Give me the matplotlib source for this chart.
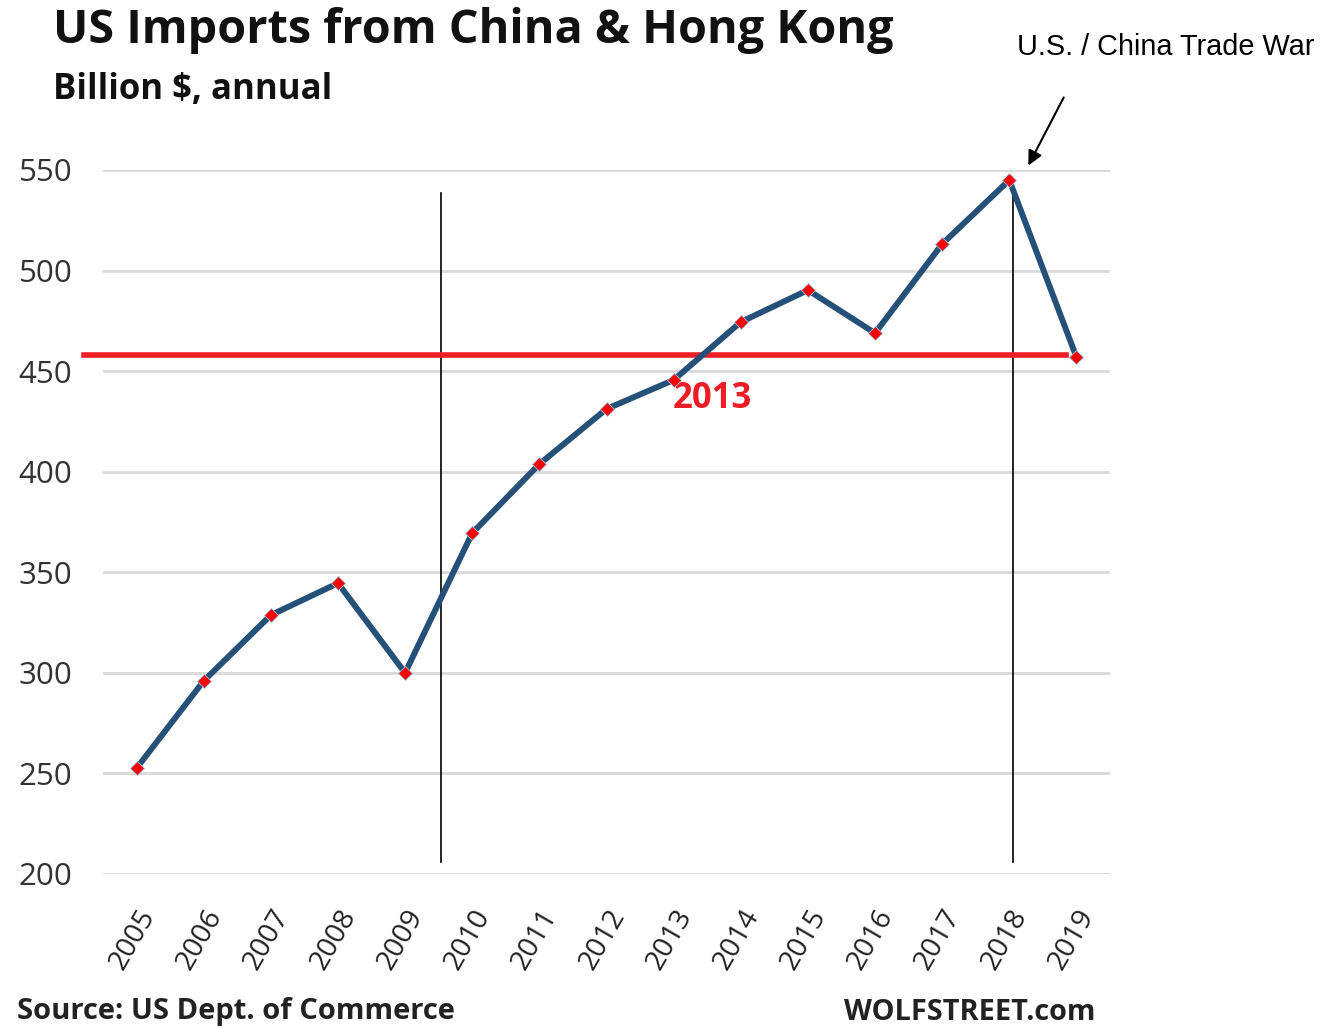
import matplotlib
matplotlib.use("Agg")
import matplotlib.pyplot as plt
import numpy as np

years = ["2005", "2006", "2007", "2008", "2009", "2010", "2011", "2012",
         "2013", "2014", "2015", "2016", "2017", "2018", "2019"]
imports = [252.6, 296, 328.7, 344.6, 300, 369.5, 403.8, 431.2,
           445.6, 474.4, 490.3, 468.9, 513.2, 545, 457]
level_2019 = 458
yticks = [200, 250, 300, 350, 400, 450, 500, 550]

W, H = 1327, 1028
fig = plt.figure(figsize=(W / 100, H / 100), dpi=100)
ax = fig.add_axes([103 / W, 1 - 874 / H, (1110 - 103) / W, (874 - 170) / H])

x = np.arange(len(years))
ax.set_xlim(-0.5, len(years) - 0.5)
ax.set_ylim(200, 550)
ax.grid(axis="y", color="#d9d9d9", linewidth=2)
ax.set_axisbelow(True)
for s in ax.spines.values():
    s.set_visible(False)
ax.tick_params(length=0)

font = "Open Sans"
ax.set_yticks(yticks)
ax.set_yticklabels([str(v) for v in yticks], fontsize=22.5, color="#333333", family=font)
ax.yaxis.set_tick_params(pad=22)
ax.set_xticks(x)
ax.set_xticklabels(years, rotation=60, fontsize=20.5, color="#222222", family=font,
                   ha="right", rotation_mode="anchor")
ax.xaxis.set_tick_params(pad=22)

# vertical marker lines
ax.plot([4.54, 4.54], [206, 538.6], color="black", linewidth=1.2, zorder=2)
ax.plot([13.06, 13.06], [206, 545], color="black", linewidth=1.2, zorder=2)

# red reference line
ax.plot([-0.78, 13.85], [level_2019, level_2019], color="#ee1c25", linewidth=4,
        clip_on=False, zorder=3)

ax.plot(x, imports, color="#255179", linewidth=4.3, marker="D", markersize=7,
        markerfacecolor="#ff0000", markeredgecolor="#9dc3e6", markeredgewidth=0.6,
        zorder=4, clip_on=False)

ax.text(8.58, 436, "2013", color="#ee1c25", fontsize=25, fontweight="bold",
        family=font, ha="center", va="center")

fig.text(53 / W, 1 - 30 / H, "US Imports from China & Hong Kong", fontsize=33.7,
         fontweight="bold", family=font, va="center", ha="left", color="#111111")
fig.text(53 / W, 1 - 90 / H, "Billion $, annual", fontsize=25,
         fontweight="bold", family=font, va="center", ha="left", color="#111111")
fig.text(1017 / W, 1 - 47 / H, "U.S. / China Trade War", fontsize=20.8,
         family="Liberation Sans", va="center", ha="left", color="black")
fig.text(17 / W, 1 - 1012 / H, "Source: US Dept. of Commerce", fontsize=21,
         fontweight="bold", family=font, va="center", ha="left", color="#222222")
fig.text(1095 / W, 1 - 1012 / H, "WOLFSTREET.com", fontsize=20.8,
         fontweight="bold", family=font, va="center", ha="right", color="#222222")

ax.annotate("", xy=(1027 / W, 1 - 168 / H), xycoords="figure fraction",
            xytext=(1065 / W, 1 - 95 / H), textcoords="figure fraction",
            arrowprops=dict(arrowstyle="-|>", color="black", lw=1.5, mutation_scale=22))

fig.savefig("out.png", dpi=100)
